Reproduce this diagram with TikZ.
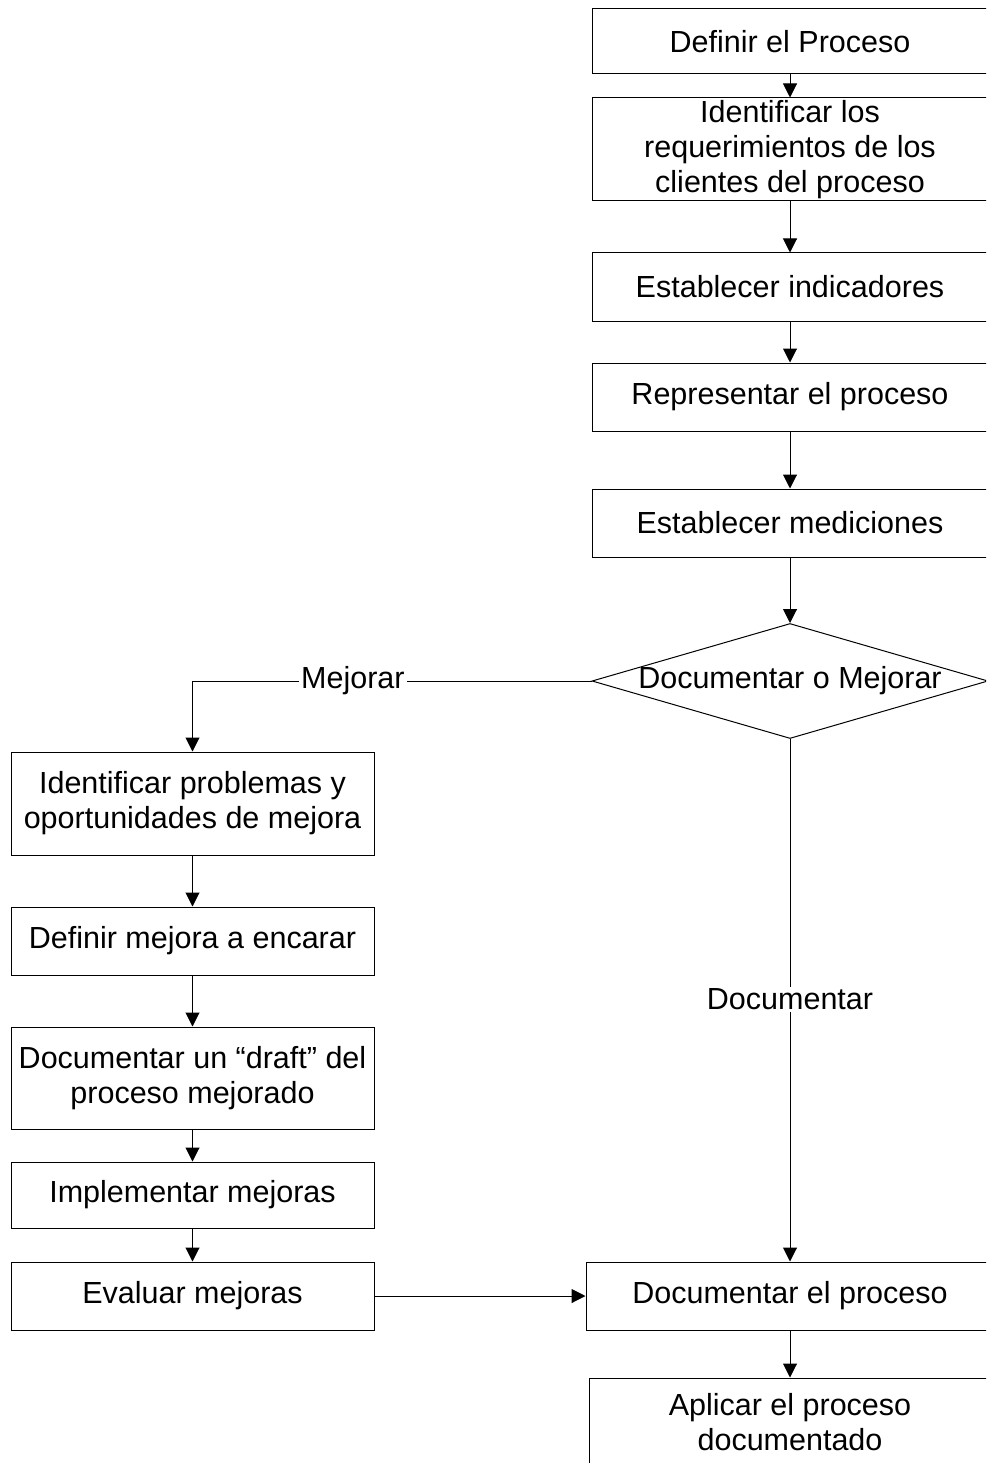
\documentclass[tikz,border=0pt]{standalone}
\usepackage{fontspec}
\setmainfont{Liberation Sans}
\usetikzlibrary{arrows.meta,shapes.geometric}
\begin{document}
\begin{tikzpicture}[x=1pt,y=-1pt,
  every node/.style={font=\fontsize{30.5}{35}\selectfont, align=center},
  stepbox/.style={draw, line width=1pt, rectangle, inner sep=0pt},
  rbox/.style={stepbox, minimum width=396pt},
  lbox/.style={stepbox, minimum width=363pt},
  flow/.style={line width=1pt, -{Triangle[width=14pt,length=14pt]}},
  tag/.style={fill=white, inner sep=2pt}]
\useasboundingbox (0,0) rectangle (986,1463);
\begin{scope}
\clip (0,0) rectangle (986,1463);
% main column
\node[rbox, minimum height=65pt]  (def)  at (790,41.5)  {Definir el Proceso};
\node[rbox, minimum height=103pt] (req)  at (790,149.5) {Identificar los\\requerimientos de los\\clientes del proceso};
\node[rbox, minimum height=68pt]  (ind)  at (790,287)   {Establecer indicadores};
\node[rbox, minimum height=68pt]  (rep)  at (790,397)   {Representar el proceso};
\node[rbox, minimum height=68pt]  (med)  at (790,523)   {Establecer mediciones};
\node[diamond, draw, line width=1pt, minimum width=396pt, minimum height=115pt, inner sep=0pt, aspect=3.44] (dec) at (790,681) {};
\node at (dec) {Documentar o Mejorar};
\node[stepbox, minimum width=408pt, minimum height=68pt] (doc) at (790,1296) {Documentar el proceso};
\node[stepbox, minimum width=402pt, minimum height=88pt] (apl) at (790,1422) {Aplicar el proceso\\documentado};
% improvement column
\node[lbox, minimum height=103pt] (prob) at (192.5,803.5) {Identificar problemas y\\oportunidades de mejora};
\node[lbox, minimum height=68pt]  (dmej) at (192.5,941)   {Definir mejora a encarar};
\node[lbox, minimum height=102pt] (draft) at (192.5,1078) {Documentar un “draft” del\\proceso mejorado};
\node[lbox, minimum height=66pt]  (impl) at (192.5,1195)  {Implementar mejoras};
\node[lbox, minimum height=68pt]  (eval) at (192.5,1296)  {Evaluar mejoras};
% connectors
\draw[flow] (def) -- (req);
\draw[flow] (req) -- (ind);
\draw[flow] (ind) -- (rep);
\draw[flow] (rep) -- (med);
\draw[flow] (med) -- (dec.north);
\draw[flow] (dec.west) -| node[tag, pos=0.299] {Mejorar} (prob.north);
\draw[flow] (dec.south) -- node[tag, pos=0.498] {Documentar} (doc.north);
\draw[flow] (prob) -- (dmej);
\draw[flow] (dmej) -- (draft);
\draw[flow] (draft) -- (impl);
\draw[flow] (impl) -- (eval);
\draw[flow] (eval) -- (doc);
\draw[flow] (doc) -- (apl);
\end{scope}
\end{tikzpicture}
\end{document}
